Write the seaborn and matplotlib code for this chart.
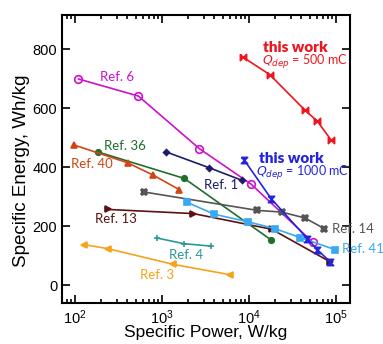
import numpy as np
import pandas as pd
import seaborn as sns
import matplotlib.pyplot as plt
from matplotlib.path import Path

# data (power W/kg, energy Wh/kg)
ref6_p = [109, 535, 2685, 10540, 54000]
ref6_e = [699, 641, 463, 343, 146]
work500_p = [8600, 17400, 44000, 61000, 87700]
work500_e = [772, 713, 593, 556, 492]
work1000_p = [8830, 17900, 46800, 61000, 85300]
work1000_e = [424, 294, 158, 121, 80]
ref1_p = [1110, 3500, 8240]
ref1_e = [452, 398, 356]
ref36_p = [182, 1805, 17700]
ref36_e = [452, 362, 155]
ref40_p = [98, 403, 794, 1580]
ref40_e = [475, 415, 373, 324]
ref14_p = [626, 12400, 23800, 44000, 73400]
ref14_e = [316, 254, 248, 228, 192]
ref41_p = [1920, 3960, 9820, 19900, 38500, 97500]
ref41_e = [282, 241, 215, 192, 162, 121]
ref13_p = [241, 2290, 18200, 85300]
ref13_e = [257, 243, 190, 80]
ref4_p = [884, 1790, 3630]
ref4_e = [160, 141, 133]
ref3_p = [127, 241, 1349, 6050]
ref3_e = [138, 124, 71, 36]

bowtie = Path([(-1, 1), (-1, -1), (1, 1), (1, -1), (-1, 1)])
hourglass = Path([(-1, 1), (1, 1), (-1, -1), (1, -1), (-1, 1)])

series = [
    # name, x, y, colour, marker, filled, size
    ("ref6", ref6_p, ref6_e, "#cc11cc", "o", False, 5.5),
    ("ref1", ref1_p, ref1_e, "#1c1c6a", "D", True, 3),
    ("ref36", ref36_p, ref36_e, "#1f6e2f", "o", True, 4),
    ("ref40", ref40_p, ref40_e, "#cf4614", "^", True, 4.5),
    ("ref14", ref14_p, ref14_e, "#555555", "X", True, 4.5),
    ("ref13", ref13_p, ref13_e, "#5c1212", ">", True, 4.5),
    ("ref41", ref41_p, ref41_e, "#3aa8f2", "s", True, 4.5),
    ("ref4", ref4_p, ref4_e, "#2a9a92", "+", True, 5),
    ("ref3", ref3_p, ref3_e, "#f6a31c", "<", True, 4.5),
    ("work1000", work1000_p, work1000_e, "#2424dc", hourglass, True, 4.5),
    ("work500", work500_p, work500_e, "#f0141e", bowtie, True, 4.5),
]

sns.set_style("ticks")
fig = plt.figure(figsize=(3.83, 3.44), dpi=100)
ax = fig.add_axes([0.162, 0.119, 0.752, 0.837])

for name, xs, ys, col, mk, filled, ms in series:
    df = pd.DataFrame({"power": xs, "energy": ys})
    sns.lineplot(data=df, x="power", y="energy", ax=ax, sort=False, estimator=None,
                 color=col, lw=1.2, marker=mk, markersize=ms,
                 markerfacecolor=(col if filled else "none"),
                 markeredgecolor=col, markeredgewidth=1.2)

ax.set_xscale("log")
ax.set_xlim(71, 1.45e5)
ax.set_ylim(-60, 915)
ax.set_yticks([0, 200, 400, 600, 800])
ax.set_xlabel("Specific Power, W/kg", fontsize=12.5, family="Liberation Sans",
              labelpad=-1, color="black")
ax.set_ylabel("Specific Energy, Wh/kg", fontsize=13.5, family="Liberation Sans",
              color="black")
ax.yaxis.set_label_coords(-0.112, 0.46)
ax.tick_params(which="both", direction="in", top=True, right=True, labelsize=10.5,
               width=1.2, color="black", labelcolor="black")
ax.tick_params(which="major", length=6)
ax.tick_params(which="minor", length=3)
for lab in ax.get_xticklabels() + ax.get_yticklabels():
    lab.set_family("Liberation Sans")
for s in ax.spines.values():
    s.set_linewidth(1.5)
    s.set_color("black")

lbl = dict(family="Lato", fontsize=9.5, ha="center", va="center")
ax.text(302, 704, "Ref. 6", color="#cc11cc", **lbl)
ax.text(376, 471, "Ref. 36", color="#1f6e2f", **lbl)
ax.text(158, 410, "Ref. 40", color="#cf4614", **lbl)
ax.text(4770, 339, "Ref. 1", color="#1c1c6a", **lbl)
ax.text(296, 223, "Ref. 13", color="#5c1212", **lbl)
ax.text(1890, 104, "Ref. 4", color="#2a9a92", **lbl)
ax.text(869, 34, "Ref. 3", color="#f6a31c", **lbl)
ax.text(90000, 190, "Ref. 14", color="#555555", family="Lato", fontsize=9.5, ha="left", va="center")
ax.text(116000, 122, "Ref. 41", color="#3aa8f2", family="Lato", fontsize=9.5, ha="left", va="center")

ax.text(34400, 806, "this work", color="#f0141e", family="Lato", fontsize=11,
        fontweight="heavy", ha="center", va="center")
ax.text(43300, 757, r"$Q_{dep}$ = 500 mC", color="#f0141e", family="Lato", fontsize=9,
        ha="center", va="center")
ax.text(31000, 429, "this work", color="#2424dc", family="Lato", fontsize=11,
        fontweight="heavy", ha="center", va="center")
ax.text(41400, 381, r"$Q_{dep}$ = 1000 mC", color="#2424dc", family="Lato", fontsize=9,
        ha="center", va="center")

fig.savefig("out.png", dpi=100)
